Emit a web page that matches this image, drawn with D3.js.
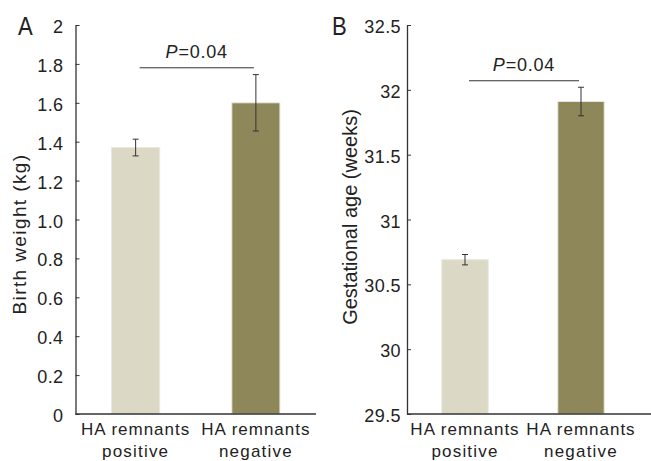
<!DOCTYPE html>
<html>
<head>
<meta charset="utf-8">
<title>HA remnants</title>
<script src="https://cdn.jsdelivr.net/npm/d3@7"></script>
<style>
  body { margin: 0; background: #fff; }
  svg text { font-family: "Liberation Sans", Arial, sans-serif; fill: #222; }
</style>
</head>
<body>
<div id="chart"></div>
<script>
// data
var groups = ["positive", "negative"];
var weightMean = [1.37, 1.60];
var weightErr = [0.043, 0.145];
var weightTicks = [0, 0.2, 0.4, 0.6, 0.8, 1.0, 1.2, 1.4, 1.6, 1.8, 2];
var gestMean = [30.69, 31.91];
var gestErr = [0.04, 0.11];
var gestTicks = [29.5, 30, 30.5, 31, 31.5, 32, 32.5];
var barColors = ["#dbd9c5", "#8d8759"];

var svg = d3.select("#chart").append("svg")
    .attr("width", 651)
    .attr("height", 461);

function panel(opt) {
    var g = svg.append("g");
    var x = d3.scaleBand()
        .domain(groups)
        .range([opt.left, opt.right])
        .paddingInner(0.6)
        .paddingOuter(0.3);
    var y = d3.scaleLinear()
        .domain(opt.domain)
        .range([414, 25]);

    // bars
    g.selectAll(".bar")
        .data(groups)
        .enter().append("rect")
        .attr("x", function (d) { return x(d); })
        .attr("y", function (d, i) { return y(opt.mean[i]); })
        .attr("width", x.bandwidth())
        .attr("height", function (d, i) { return y(opt.domain[0]) - y(opt.mean[i]); })
        .attr("fill", function (d, i) { return barColors[i]; })
        .attr("stroke", "#e8e8e2")
        .attr("stroke-width", 1);

    // error bars
    var eb = g.selectAll(".err")
        .data(groups)
        .enter().append("g")
        .attr("stroke", "#333")
        .attr("stroke-width", 1);
    eb.append("line")
        .attr("x1", function (d) { return x(d) + x.bandwidth() / 2; })
        .attr("x2", function (d) { return x(d) + x.bandwidth() / 2; })
        .attr("y1", function (d, i) { return y(opt.mean[i] + opt.err[i]); })
        .attr("y2", function (d, i) { return y(opt.mean[i] - opt.err[i]); });
    [1, -1].forEach(function (s) {
        eb.append("line")
            .attr("x1", function (d) { return x(d) + x.bandwidth() / 2 - 3; })
            .attr("x2", function (d) { return x(d) + x.bandwidth() / 2 + 3; })
            .attr("y1", function (d, i) { return y(opt.mean[i] + s * opt.err[i]); })
            .attr("y2", function (d, i) { return y(opt.mean[i] + s * opt.err[i]); });
    });

    // y axis (ticks pointing inward)
    var ya = g.append("g")
        .attr("transform", "translate(" + opt.left + ",0)")
        .call(d3.axisRight(y).tickValues(opt.ticks).tickSize(4).tickSizeOuter(0)
            .tickFormat(opt.fmt));
    ya.select(".domain").attr("stroke", "#333").attr("stroke-width", 1.3);
    ya.selectAll(".tick line").attr("stroke", "#333");
    ya.selectAll(".tick text")
        .attr("x", -opt.tickGap)
        .attr("dy", "0.42em")
        .attr("text-anchor", "end")
        .style("font-size", "18px")
        .style("letter-spacing", "0.4px")
        .attr("fill", "#222");

    // x axis line
    g.append("line")
        .attr("x1", opt.left).attr("x2", opt.axisEnd)
        .attr("y1", y(opt.domain[0])).attr("y2", y(opt.domain[0]))
        .attr("stroke", "#333").attr("stroke-width", 1.3);

    // category labels
    groups.forEach(function (d) {
        var cx = x(d) + x.bandwidth() / 2;
        g.append("text").attr("x", cx).attr("y", 435)
            .attr("text-anchor", "middle").style("font-size", "17px")
            .style("letter-spacing", "1px")
            .text("HA remnants");
        g.append("text").attr("x", cx).attr("y", 457)
            .attr("text-anchor", "middle").style("font-size", "17px")
            .style("letter-spacing", "1.2px")
            .text(d);
    });

    // significance bracket
    var x1 = x(groups[0]) + x.bandwidth() / 2 + 4;
    var x2 = x(groups[1]) + x.bandwidth() / 2 - 2;
    g.append("line")
        .attr("x1", x1).attr("x2", x2)
        .attr("y1", y(opt.pY)).attr("y2", y(opt.pY))
        .attr("stroke", "#333").attr("stroke-width", 1);
    var pt = g.append("text")
        .attr("x", (x1 + x2) / 2).attr("y", y(opt.pY) - 10)
        .attr("text-anchor", "middle").style("font-size", "18px")
        .style("letter-spacing", "0.8px");
    pt.append("tspan").style("font-style", "italic").text("P");
    pt.append("tspan").text("=0.04");

    // y title
    g.append("text")
        .attr("transform", "translate(" + opt.titleX + "," + opt.titleY + ") rotate(-90)")
        .attr("text-anchor", "middle")
        .style("font-size", opt.titleSize)
        .style("letter-spacing", opt.titleSpacing)
        .text(opt.title);

    // panel letter (narrow)
    g.append("text")
        .attr("transform", "translate(" + opt.letterX + ",35) scale(0.85,1)")
        .style("font-size", "26px")
        .text(opt.letter);
}

panel({
    left: 75.5, right: 316, axisEnd: 316, domain: [0, 2], tickGap: 12,
    mean: weightMean, err: weightErr, ticks: weightTicks,
    fmt: function (d) { return (d === 0 || d === 2) ? d3.format("d")(d) : d3.format(".1f")(d); },
    pY: 1.78, title: "Birth weight (kg)", titleX: 26, titleY: 234, titleSize: "19px", titleSpacing: "1.4px",
    letter: "A", letterX: 18
});

panel({
    left: 407, right: 639, axisEnd: 651, domain: [29.5, 32.5], tickGap: 6,
    mean: gestMean, err: gestErr, ticks: gestTicks,
    fmt: function (d) { return String(d); },
    pY: 32.07, title: "Gestational age (weeks)", titleX: 357, titleY: 217, titleSize: "20px", titleSpacing: "0px",
    letter: "B", letterX: 332
});
</script>
</body>
</html>
